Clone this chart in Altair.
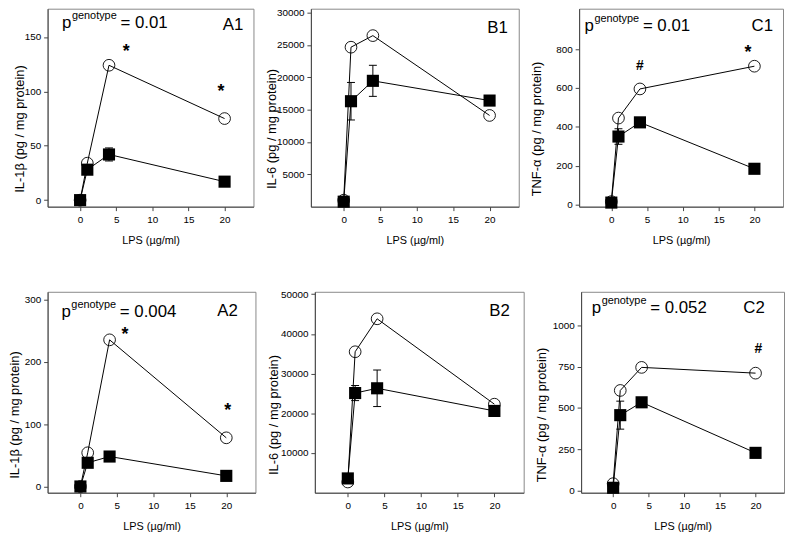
import altair as alt
import pandas as pd

FONT = "Liberation Sans"

LPS = [0, 1, 4, 20]
XTICKS = [0, 5, 10, 15, 20]

# open circles / filled squares / error (+-) for the filled squares
A1_open = [0, 34, 124, 75]
A1_filled = [0, 28, 42, 17]
A1_err = [0, 0, 6, 0]

B1_open = [1000, 24650, 26440, 14100]
B1_filled = [770, 16300, 19450, 16400]
B1_err = [0, 2900, 2400, 0]

C1_open = [15, 445, 595, 712]
C1_filled = [10, 350, 423, 184]
C1_err = [0, 40, 0, 0]

A2_open = [0, 54, 235, 78]
A2_filled = [0, 38, 48, 17]
A2_err = [0, 0, 0, 0]

B2_open = [2700, 35500, 43800, 22300]
B2_filled = [3600, 25100, 26300, 20600]
B2_err = [0, 1900, 4600, 0]

C2_open = [40, 606, 746, 711]
C2_filled = [15, 456, 534, 227]
C2_err = [0, 85, 0, 0]

T_IL1 = "IL-1β (pg / mg protein)"
T_IL6 = "IL-6 (pg / mg protein)"
T_TNF = "TNF-α (pg / mg protein)"
X_TITLE = "LPS (µg/ml)"


def panel(open_v, filled_v, err_v, ydom, yticks, ytitle, w, h, ext, title_y,
          plab=None, pval=None, name=None, name_pos=None, marks=()):
    x = alt.X("lps:Q", scale=alt.Scale(domain=[-4.5, 24], nice=False, zero=False),
              axis=alt.Axis(values=XTICKS, title=X_TITLE))
    y = alt.Y("val:Q", scale=alt.Scale(domain=ydom, nice=False, zero=False),
              axis=alt.Axis(values=yticks, title=ytitle, format="d", minExtent=ext,
                            maxExtent=ext, titleY=title_y))
    d_open = pd.DataFrame({"lps": LPS, "val": open_v})
    d_fill = pd.DataFrame({"lps": LPS, "val": filled_v})
    layers = [
        alt.Chart(d_open).mark_line(color="black", strokeWidth=1).encode(x=x, y=y, order="lps:Q"),
        alt.Chart(d_fill).mark_line(color="black", strokeWidth=1).encode(x=x, y=y, order="lps:Q"),
        alt.Chart(d_open).mark_point(shape="circle", filled=False, color="black",
                                     size=140, strokeWidth=0.9, opacity=1).encode(x=x, y=y),
    ]
    eb = [(l, f, e) for l, f, e in zip(LPS, filled_v, err_v) if e > 0]
    if eb:
        d_err = pd.DataFrame({"lps": [r[0] for r in eb],
                              "val": [r[1] - r[2] for r in eb],
                              "val2": [r[1] + r[2] for r in eb]})
        d_cap = pd.DataFrame({"lps": [r[0] for r in eb] * 2,
                              "val": [r[1] - r[2] for r in eb] + [r[1] + r[2] for r in eb]})
        layers.append(alt.Chart(d_err).mark_rule(color="black", strokeWidth=1)
                      .encode(x=x, y=y, y2="val2:Q"))
        layers.append(alt.Chart(d_cap).mark_rule(color="black", strokeWidth=1,
                                                 xOffset=-4, x2Offset=4)
                      .encode(x=x, x2="lps:Q", y=y))
    layers.append(alt.Chart(d_fill).mark_point(shape="square", filled=True, color="black",
                                               size=150, opacity=1).encode(x=x, y=y))
    if plab is not None:
        d_p = pd.DataFrame({"lps": [plab[0]], "val": [plab[1]], "t": ["p"]})
        d_g = pd.DataFrame({"lps": [plab[0]], "val": [plab[1]], "t": ["genotype"]})
        d_v = pd.DataFrame({"lps": [plab[0]], "val": [plab[1]], "t": ["= " + pval]})
        layers.append(alt.Chart(d_p).mark_text(font=FONT, fontSize=17, align="left",
                                               baseline="alphabetic", color="black")
                      .encode(x=x, y=y, text="t:N"))
        layers.append(alt.Chart(d_g).mark_text(font=FONT, fontSize=11, align="left",
                                               baseline="alphabetic", color="black",
                                               dx=10, dy=-9)
                      .encode(x=x, y=y, text="t:N"))
        layers.append(alt.Chart(d_v).mark_text(font=FONT, fontSize=17, align="left",
                                               baseline="alphabetic", color="black", dx=59)
                      .encode(x=x, y=y, text="t:N"))
    if name is not None:
        d_n = pd.DataFrame({"lps": [name_pos[0]], "val": [name_pos[1]], "t": [name]})
        layers.append(alt.Chart(d_n).mark_text(font=FONT, fontSize=17, align="right",
                                               baseline="alphabetic", color="black")
                      .encode(x=x, y=y, text="t:N"))
    for sym, lx, ly in marks:
        d_m = pd.DataFrame({"lps": [lx], "val": [ly], "t": [sym]})
        if sym == "*":
            mk = alt.Chart(d_m).mark_text(font=FONT, fontSize=18, fontWeight="bold",
                                          align="center", baseline="middle",
                                          color="black", dy=5)
        else:
            mk = alt.Chart(d_m).mark_text(font=FONT, fontSize=14, fontWeight="bold",
                                          align="center", baseline="middle",
                                          color="black", dy=0)
        layers.append(mk.encode(x=x, y=y, text="t:N"))
    return alt.layer(*layers).properties(width=w, height=h)


H1, H2 = 200, 203

A1 = panel(A1_open, A1_filled, A1_err, [-6, 176], [0, 50, 100, 150], T_IL1, 208, H1, 19, 121,
           plab=(-2.5, 158), pval="0.01", name="A1", name_pos=(22.6, 156),
           marks=[("*", 6.4, 141), ("*", 19.5, 104)])
B1 = panel(B1_open, B1_filled, B1_err, [0, 30600], [5000, 10000, 15000, 20000, 25000, 30000],
           T_IL6, 210, H1, 31, 121, name="B1", name_pos=(22.5, 26800))
C1 = panel(C1_open, C1_filled, C1_err, [-11, 1008], [0, 200, 400, 600, 800], T_TNF, 206, H1, 34, 121,
           plab=(-3.75, 895), pval="0.01", name="C1", name_pos=(22.6, 895),
           marks=[("#", 4, 714), ("*", 19.1, 805)])

A2 = panel(A2_open, A2_filled, A2_err, [-10, 312], [0, 100, 200, 300], T_IL1, 210, H2, 24, 124,
           plab=(-2.6, 272), pval="0.004", name="A2", name_pos=(21.6, 274),
           marks=[("*", 6.1, 250), ("*", 20.2, 129)])
B2 = panel(B2_open, B2_filled, B2_err, [0, 50600], [10000, 20000, 30000, 40000, 50000],
           T_IL6, 211, H2, 33, 124, name="B2", name_pos=(22.1, 44600))
C2 = panel(C2_open, C2_filled, C2_err, [-15, 1205], [0, 250, 500, 750, 1000], T_TNF, 205, H2, 31, 124,
           plab=(-3.0, 1078), pval="0.052", name="C2", name_pos=(21.3, 1078),
           marks=[("#", 20.4, 859)])

top = alt.hconcat(A1, B1, C1, spacing=10)
bottom = alt.hconcat(A2, B2, C2, spacing=10)

chart = (
    alt.vconcat(top, bottom, spacing=42)
    .properties(padding={"left": 0, "top": -4, "right": 0, "bottom": 0})
    .configure_view(stroke="#888", strokeWidth=1)
    .configure_axis(grid=False, domainColor="#444", tickColor="#444", tickSize=4,
                    domainWidth=1, tickWidth=1, labelFont=FONT, titleFont=FONT,
                    labelFontSize=10, labelColor="black", titleColor="black",
                    titleFontWeight="normal", labelFlush=False)
    .configure_axisX(labelPadding=4, titlePadding=10, titleFontSize=11)
    .configure_axisY(labelPadding=3, titlePadding=2, titleFontSize=13)
)

chart.save("out.html", embed_options={"renderer": "svg", "actions": False})
